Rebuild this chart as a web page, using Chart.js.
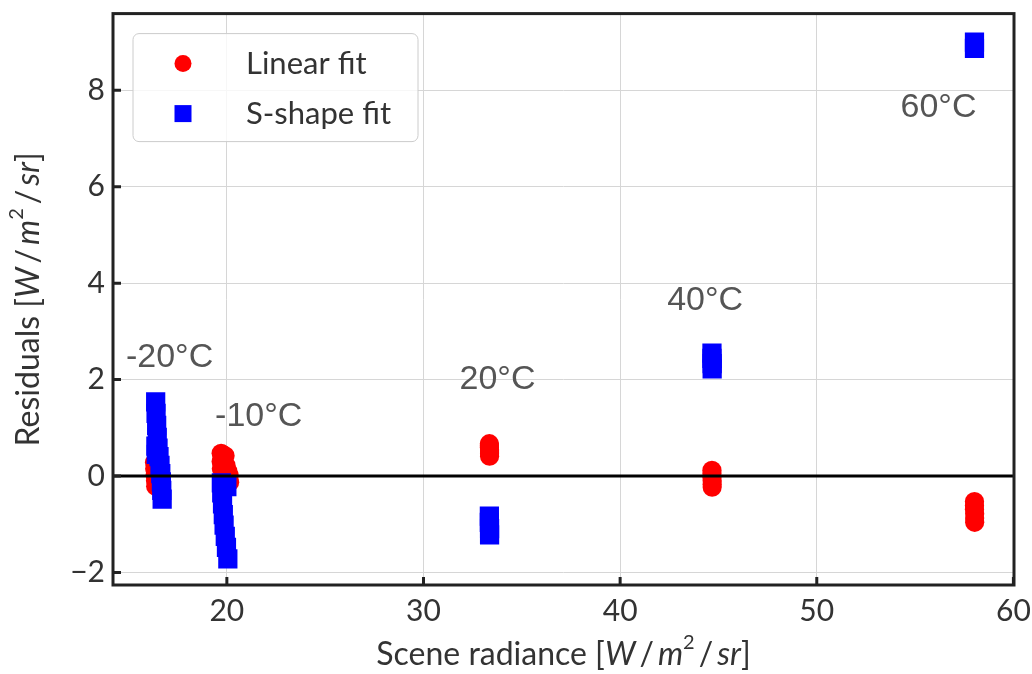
<!DOCTYPE html>
<html lang="en">
<head>
    <meta charset="UTF-8">
    <title>Residuals</title>
    <script src="https://cdn.jsdelivr.net/npm/chart.js"></script>
    <style>
        body {
            margin: 0;
            background: #fff;
        }
        #wrap {
            width: 1032px;
            height: 674px;
        }
    </style>
</head>
<body>

    <div id="wrap"><canvas id="grafica"></canvas></div>

    <script>
        // data
        const linearX = [16.32, 16.33, 16.35, 16.37, 16.38,
                         19.71, 19.80, 19.91, 19.71, 19.72, 19.96, 20.05, 20.12, 20.14,
                         33.35, 33.35, 33.35, 33.36, 33.36, 33.36, 33.36,
                         44.67, 44.67, 44.67, 44.68, 44.68, 44.68,
                         58.02, 58.02, 58.02, 58.03, 58.03, 58.03];
        const linearY = [0.28, 0.15, 0.02, -0.10, -0.21,
                         0.47, 0.44, 0.42, 0.30, 0.15, 0.22, 0.10, 0.01, -0.13,
                         0.67, 0.63, 0.59, 0.54, 0.50, 0.46, 0.41,
                         0.12, 0.05, -0.03, -0.10, -0.17, -0.23,
                         -0.53, -0.61, -0.69, -0.78, -0.87, -0.96];

        const sshapeX = [16.38, 16.40, 16.43, 16.46, 16.39, 16.41, 16.50, 16.55, 16.60, 16.64, 16.67, 16.69, 16.71,
                         19.72, 20.00, 19.74, 19.78, 19.82, 19.86, 19.92, 19.98, 20.05,
                         33.35, 33.35, 33.36, 33.36,
                         44.67, 44.67, 44.68, 44.68,
                         58.02, 58.02];
        const sshapeY = [1.54, 1.30, 1.05, 0.80, 0.62, 0.45, 0.58, 0.40, 0.22, 0.05, -0.12, -0.30, -0.48,
                         -0.14, -0.22, -0.35, -0.58, -0.80, -1.02, -1.25, -1.48, -1.72,
                         -0.83, -0.96, -1.09, -1.22,
                         2.55, 2.44, 2.33, 2.22,
                         9.00, 8.87];

        const xTicks = [20, 30, 40, 50, 60];
        const yTicks = [-2, 0, 2, 4, 6, 8];

        // temperature labels
        const annText = ['-20°C', '-10°C', '20°C', '40°C', '60°C'];
        const annX = [14.87, 19.40, 31.83, 42.39, 54.26];
        const annY = [2.46, 1.24, 1.99, 3.64, 7.63];

        const xMin = 14.21, xMax = 60.03;
        const yMin = -2.26, yMax = 9.59;

        const fuente = "Lato, 'DejaVu Sans', sans-serif";

        function puntos(xs, ys) {
            return xs.map((x, i) => ({ x: x, y: ys[i] }));
        }

        // axis title with italic units: [W / m² / sr]
        function tituloEje(nombre) {
            const n = '32px ' + fuente, it = 'italic 32px ' + fuente, sup = '20px ' + fuente;
            return [
                { t: nombre + ' [', f: n },
                { t: 'W', f: it },
                { t: '\u2009/\u2009', f: n },
                { t: 'm', f: it },
                { t: '2', f: sup, dy: -12 },
                { t: '\u2009/\u2009', f: n },
                { t: 'sr', f: it },
                { t: ']', f: n }
            ];
        }

        function textoMixto(ctx, partes, cx, cy) {
            let ancho = 0;
            partes.forEach(p => { ctx.font = p.f; ancho += ctx.measureText(p.t).width; });
            let px = cx - ancho / 2;
            partes.forEach(p => {
                ctx.font = p.f;
                ctx.fillText(p.t, px, cy + (p.dy || 0));
                px += ctx.measureText(p.t).width;
            });
        }

        // zero line, frame, inward ticks, titles, labels and legend
        const extras = {
            id: 'extras',
            afterDatasetsDraw(chart) {
                const { ctx, chartArea: a, scales: { x, y } } = chart;
                ctx.save();

                // y = 0 line
                ctx.strokeStyle = '#000';
                ctx.lineWidth = 3;
                ctx.beginPath();
                ctx.moveTo(a.left, y.getPixelForValue(0));
                ctx.lineTo(a.right, y.getPixelForValue(0));
                ctx.stroke();

                // frame
                ctx.strokeStyle = '#222';
                ctx.lineWidth = 3;
                ctx.strokeRect(a.left, a.top, a.right - a.left, a.bottom - a.top);

                // ticks pointing in
                ctx.beginPath();
                xTicks.forEach(v => {
                    const px = x.getPixelForValue(v);
                    ctx.moveTo(px, a.bottom);
                    ctx.lineTo(px, a.bottom - 8);
                });
                yTicks.forEach(v => {
                    const py = y.getPixelForValue(v);
                    ctx.moveTo(a.left, py);
                    ctx.lineTo(a.left + 8, py);
                });
                ctx.stroke();

                // axis titles
                ctx.fillStyle = '#333';
                ctx.textAlign = 'left';
                ctx.textBaseline = 'middle';
                textoMixto(ctx, tituloEje('Scene radiance'), (a.left + a.right) / 2, 655);
                ctx.save();
                ctx.translate(29, (a.top + a.bottom) / 2);
                ctx.rotate(-Math.PI / 2);
                textoMixto(ctx, tituloEje('Residuals'), 0, 0);
                ctx.restore();

                // temperatures
                ctx.fillStyle = '#555';
                ctx.font = "34px 'Liberation Sans', Arial, sans-serif";
                annText.forEach((t, i) => {
                    ctx.fillText(t, x.getPixelForValue(annX[i]), y.getPixelForValue(annY[i]));
                });

                // legend box
                const lx = a.left + 20, ly = a.top + 20, lw = 285, lh = 108;
                ctx.fillStyle = 'rgba(255,255,255,0.8)';
                ctx.strokeStyle = '#cccccc';
                ctx.lineWidth = 1;
                ctx.beginPath();
                ctx.roundRect(lx, ly, lw, lh, 6);
                ctx.fill();
                ctx.stroke();

                ctx.font = '31px ' + fuente;
                chart.data.datasets.forEach((ds, i) => {
                    const cy = ly + 30 + i * 50;
                    const cx = lx + 50;
                    ctx.fillStyle = ds.backgroundColor;
                    ctx.beginPath();
                    if (ds.pointStyle === 'rect') {
                        ctx.rect(cx - 8.5, cy - 8.5, 17, 17);
                    } else {
                        ctx.arc(cx, cy, 8.5, 0, Math.PI * 2);
                    }
                    ctx.fill();
                    ctx.fillStyle = '#333';
                    ctx.fillText(ds.label, lx + 113, cy);
                });

                ctx.restore();
            }
        };

        const ctx = document.getElementById('grafica').getContext('2d');
        const grafica = new Chart(ctx, {
            type: 'scatter',
            data: {
                datasets: [{
                    label: 'Linear fit',
                    data: puntos(linearX, linearY),
                    backgroundColor: '#ff0000',
                    borderWidth: 0,
                    pointStyle: 'circle',
                    pointRadius: 9.6,
                    order: 2
                }, {
                    label: 'S-shape fit',
                    data: puntos(sshapeX, sshapeY),
                    backgroundColor: '#0000ff',
                    borderWidth: 0,
                    pointStyle: 'rect',
                    pointRadius: 13.6,
                    order: 1
                }]
            },
            options: {
                responsive: true,
                maintainAspectRatio: false,
                animation: false,
                layout: {
                    padding: { left: 0, right: 18, top: 11, bottom: 0 }
                },
                plugins: {
                    legend: { display: false },
                    tooltip: { enabled: false }
                },
                scales: {
                    x: {
                        type: 'linear',
                        min: xMin,
                        max: xMax,
                        afterBuildTicks: s => { s.ticks = xTicks.map(v => ({ value: v })); },
                        afterFit: s => {
                            s.height = 89;
                            s.paddingLeft = 0;
                            s.paddingRight = 0;
                        },
                        grid: { color: '#d6d6d6', lineWidth: 1, drawTicks: false },
                        border: { display: false },
                        ticks: {
                            padding: 8,
                            color: '#333',
                            font: { family: fuente, size: 30 }
                        }
                    },
                    y: {
                        type: 'linear',
                        min: yMin,
                        max: yMax,
                        afterBuildTicks: s => { s.ticks = yTicks.map(v => ({ value: v })); },
                        afterFit: s => {
                            s.width = 113;
                            s.paddingTop = 0;
                            s.paddingBottom = 0;
                        },
                        grid: { color: '#d6d6d6', lineWidth: 1, drawTicks: false },
                        border: { display: false },
                        ticks: {
                            padding: 8,
                            color: '#333',
                            font: { family: fuente, size: 30 },
                            callback: v => v < 0 ? '\u2212' + Math.abs(v) : String(v)
                        }
                    }
                }
            },
            plugins: [extras]
        });
    </script>
</body>
</html>
